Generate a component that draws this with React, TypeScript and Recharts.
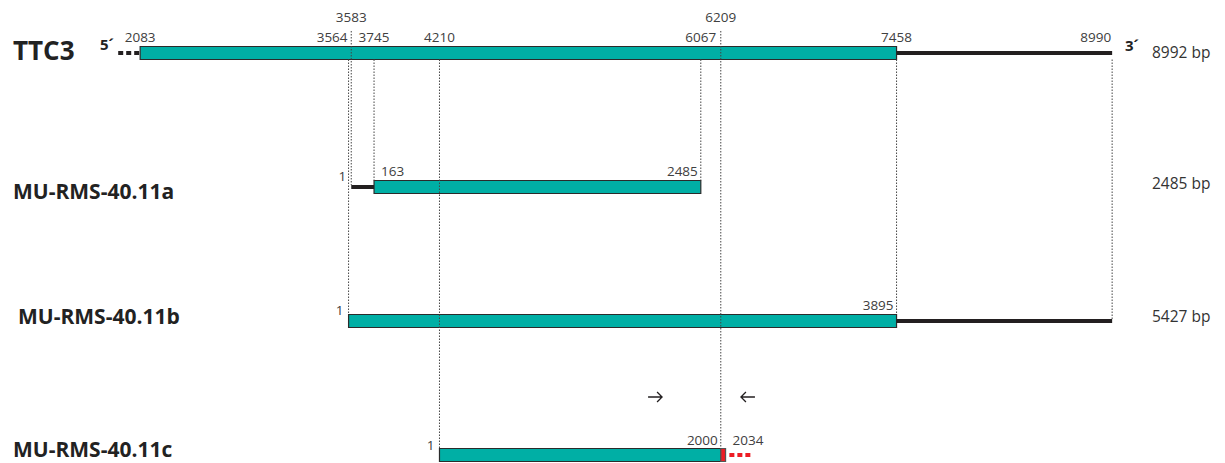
import React from 'react';
import {
  ComposedChart,
  XAxis,
  YAxis,
  ReferenceArea,
  ReferenceLine,
  Scatter,
} from 'recharts';

const W = 1225;
const H = 463;

// rows of the map, top to bottom
const rowNames = ['TTC3', 'MU-RMS-40.11a', 'MU-RMS-40.11b', 'MU-RMS-40.11c'];
const rowLengths = ['8992 bp', '2485 bp', '5427 bp', ''];

// everything below is in TTC3 nucleotide coordinates
const codingParts = [
  { row: 0, from: 2083, to: 7458 },
  { row: 1, from: 3745, to: 6067 },
  { row: 2, from: 3564, to: 7458 },
  { row: 3, from: 4210, to: 6209 },
];
const utrParts = [
  { row: 0, from: 7458, to: 8990 },
  { row: 1, from: 3583, to: 3745 },
  { row: 2, from: 7458, to: 8990 },
];
const novelParts = [{ row: 3, from: 6209, to: 6243 }];
const openEnds = [
  { row: 0, from: 1927, to: 2083, red: false },
  { row: 3, from: 6270, to: 6428, red: true },
];

// dotted guides: row -1 = starts above the TTC3 labels
const guides = [
  { x: 3564, from: 0, to: 2 },
  { x: 3583, from: -1, to: 1 },
  { x: 3745, from: 0, to: 1 },
  { x: 4210, from: 0, to: 3 },
  { x: 6067, from: 0, to: 1 },
  { x: 6209, from: -1, to: 3 },
  { x: 7458, from: 0, to: 2 },
  { x: 8990, from: 0, to: 2 },
];

const ttc3Labels = [
  { x: 2083, text: '2083', anchor: 'middle', up: false },
  { x: 3564, text: '3564', anchor: 'end', up: false },
  { x: 3583, text: '3583', anchor: 'middle', up: true },
  { x: 3745, text: '3745', anchor: 'middle', up: false },
  { x: 4210, text: '4210', anchor: 'middle', up: false },
  { x: 6067, text: '6067', anchor: 'middle', up: false },
  { x: 6209, text: '6209', anchor: 'middle', up: true },
  { x: 7458, text: '7458', anchor: 'middle', up: false },
  { x: 8990, text: '8990', anchor: 'end', up: false },
];

// transcript positions (own numbering) at their TTC3 coordinate
const transcriptLabels = [
  { row: 1, x: 3583, text: '1', kind: 'side' },
  { row: 1, x: 3745, text: '163', kind: 'start' },
  { row: 1, x: 6067, text: '2485', kind: 'end' },
  { row: 2, x: 3564, text: '1', kind: 'side' },
  { row: 2, x: 7458, text: '3895', kind: 'end' },
  { row: 3, x: 4210, text: '1', kind: 'side' },
  { row: 3, x: 6209, text: '2000', kind: 'end' },
  { row: 3, x: 6243, text: '2034', kind: 'start' },
];

const primers = [
  { x: 5742, dir: 1 },
  { x: 6402, dir: -1 },
];
const PRIMER_ROW = 2.567;

const X_DOMAIN = [1087, 9792];
const Y_DOMAIN = [-0.3955, 3.0597];
const UNIT_PER_PX = (Y_DOMAIN[1] - Y_DOMAIN[0]) / H;
const BAR_HALF_PX = 6.5;
const BAR_HALF = BAR_HALF_PX * UNIT_PER_PX;
const LINE_HALF = 2 * UNIT_PER_PX;

const TEAL = '#00AFA5';
const OUTLINE = '#2b2b2b';
const INK = '#231f20';
const RED = '#ED1C24';
const FONT = "'Open Sans', 'Noto Sans', sans-serif";

const isCodingEdge = (row: number, x: number) =>
  codingParts.some((p) => p.row === row && (p.from === x || p.to === x));

const guideY1 = (g: { from: number }) =>
  g.from < 0 ? -22 * UNIT_PER_PX : g.from + BAR_HALF;
const guideY2 = (g: { x: number; to: number }) =>
  g.to - (isCodingEdge(g.to, g.x) ? BAR_HALF : LINE_HALF);

const NumberLabel = (props: any) => {
  const { cx, cy, payload } = props;
  if (cx == null || cy == null) return null;
  let x = cx;
  let y = cy - BAR_HALF_PX - 4;
  let anchor = 'middle';
  if (payload.row === 0) {
    anchor = payload.anchor;
    if (anchor === 'end') x -= 1;
    if (payload.up) y = cy - BAR_HALF_PX - 24;
  } else if (payload.kind === 'side') {
    anchor = 'end';
    x -= 5;
    y = cy - BAR_HALF_PX + 1;
  } else if (payload.kind === 'start') {
    anchor = 'start';
    x += 7;
  } else {
    anchor = 'end';
    x -= 3;
  }
  return (
    <text
      x={x}
      y={y}
      textAnchor={anchor}
      fontFamily={FONT}
      fontSize={13.5}
      fill="#404040"
    >
      {payload.text}
    </text>
  );
};

const PrimerArrow = (props: any) => {
  const { cx, cy, payload } = props;
  if (cx == null || cy == null) return null;
  const tip = cx + 7 * payload.dir;
  const tail = cx - 7 * payload.dir;
  const back = tip - 5 * payload.dir;
  return (
    <path
      d={`M${tail},${cy} L${tip},${cy} M${back},${cy - 5} L${tip},${cy} L${back},${cy + 5}`}
      stroke={INK}
      strokeWidth={1.3}
      fill="none"
    />
  );
};

const labelData = [
  ...ttc3Labels.map((l) => ({ ...l, row: 0, y: 0 })),
  ...transcriptLabels.map((l) => ({ ...l, y: l.row })),
];
const primerData = primers.map((p) => ({ ...p, y: PRIMER_ROW }));

const titleBaselines = [60, 199, 324, 457];
const titleLefts = [13, 13, 18, 13];
const lengthBaselines = [58, 189, 322, 0];

export default function App() {
  return (
    <div
      style={{
        position: 'absolute',
        left: 0,
        top: 0,
        width: W,
        height: H,
        background: '#fff',
      }}
    >
      <ComposedChart
        width={W}
        height={H}
        margin={{ top: 0, right: 0, bottom: 0, left: 0 }}
      >
        <XAxis
          type="number"
          dataKey="x"
          domain={X_DOMAIN}
          allowDataOverflow
          hide
        />
        <YAxis
          type="number"
          dataKey="y"
          domain={Y_DOMAIN}
          allowDataOverflow
          reversed
          hide
        />

        {utrParts.map((p, i) => (
          <ReferenceLine
            key={`utr-${i}`}
            segment={[
              { x: p.from, y: p.row },
              { x: p.to, y: p.row },
            ]}
            stroke={INK}
            strokeWidth={4}
          />
        ))}

        {openEnds.map((p, i) => (
          <ReferenceLine
            key={`open-${i}`}
            segment={[
              { x: p.from, y: p.row },
              { x: p.to, y: p.row },
            ]}
            stroke={p.red ? RED : INK}
            strokeWidth={4}
            strokeDasharray="5 3"
          />
        ))}

        {codingParts.map((p, i) => (
          <ReferenceArea
            key={`cds-${i}`}
            x1={p.from}
            x2={p.to}
            y1={p.row - BAR_HALF}
            y2={p.row + BAR_HALF}
            fill={TEAL}
            fillOpacity={1}
            stroke={OUTLINE}
            strokeWidth={1.2}
          />
        ))}

        {novelParts.map((p, i) => (
          <ReferenceArea
            key={`novel-${i}`}
            x1={p.from}
            x2={p.to}
            y1={p.row - BAR_HALF}
            y2={p.row + BAR_HALF}
            fill={RED}
            fillOpacity={1}
            stroke="#555"
            strokeWidth={1.2}
          />
        ))}

        {guides.map((g, i) => (
          <ReferenceLine
            key={`guide-${i}`}
            segment={[
              { x: g.x, y: guideY1(g) },
              { x: g.x, y: guideY2(g) },
            ]}
            stroke="#444"
            strokeWidth={1}
            strokeDasharray="1.5 1.5"
          />
        ))}

        <Scatter
          data={labelData}
          dataKey="y"
          shape={NumberLabel}
          isAnimationActive={false}
        />
        <Scatter
          data={primerData}
          dataKey="y"
          shape={PrimerArrow}
          isAnimationActive={false}
        />
      </ComposedChart>

      <svg
        width={W}
        height={H}
        style={{ position: 'absolute', left: 0, top: 0, pointerEvents: 'none' }}
      >
        {rowNames.map((name, i) => (
          <text
            key={name}
            x={titleLefts[i]}
            y={titleBaselines[i]}
            fontFamily={FONT}
            fontWeight={700}
            fontSize={i === 0 ? 26 : 21}
            fill="#222"
          >
            {name}
          </text>
        ))}
        {rowLengths.map((t, i) =>
          t ? (
            <text
              key={`len-${i}`}
              x={1152}
              y={lengthBaselines[i]}
              fontFamily={FONT}
              fontSize={15.5}
              fill="#333"
            >
              {t}
            </text>
          ) : null
        )}
        <text x={100} y={50} fontFamily={FONT} fontWeight={700} fontSize={15} fill="#222">
          5´
        </text>
        <text x={1125} y={51} fontFamily={FONT} fontWeight={700} fontSize={15} fill="#222">
          3´
        </text>
      </svg>
    </div>
  );
}
